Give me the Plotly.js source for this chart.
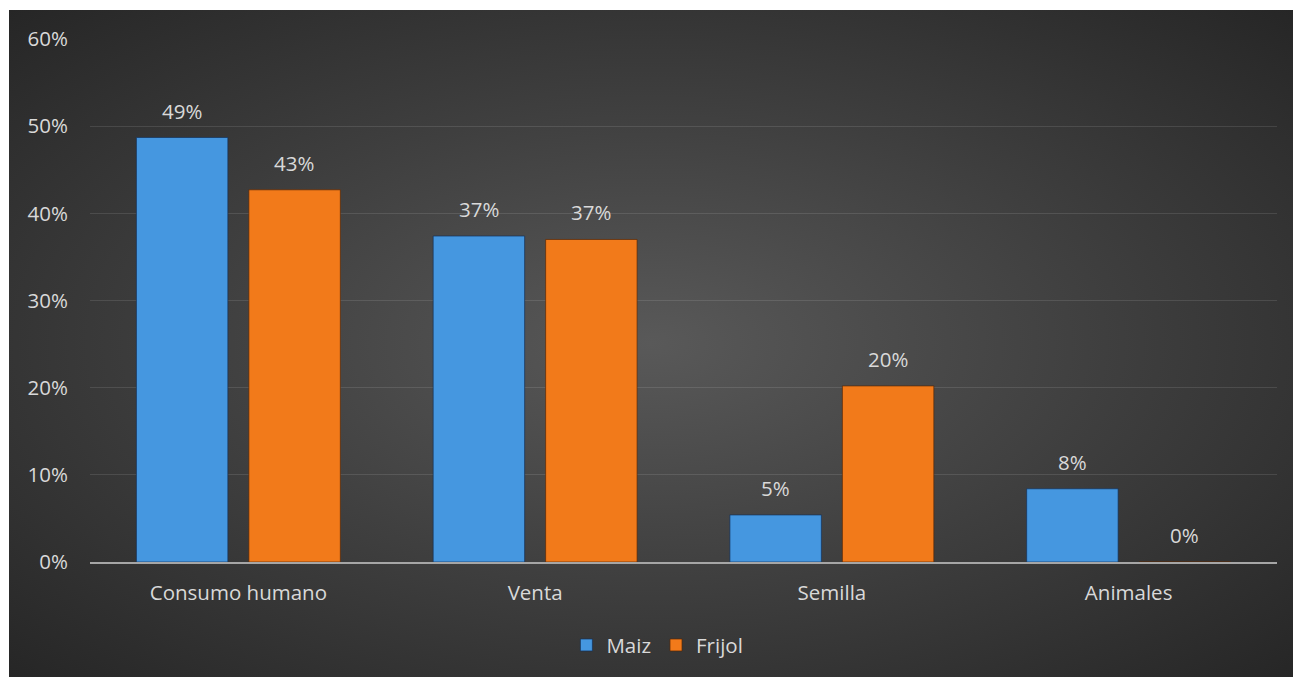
<!DOCTYPE html>
<html>
<head>
<meta charset="utf-8">
<script src="https://cdn.plot.ly/plotly-3.0.1.min.js"></script>
<style>
  html, body { margin: 0; padding: 0; background: #ffffff; }
  #chart {
    position: absolute; left: 9px; top: 10px; width: 1284px; height: 667px;
    background: radial-gradient(ellipse farthest-corner at 50% 50%, #595959 0%, #3f3f3f 50%, #262626 100%);
  }
</style>
</head>
<body>
<div id="chart"></div>
<script>
const categories = ["Consumo humano", "Venta", "Semilla", "Animales"];
const maiz = [0.487, 0.374, 0.054, 0.084];
const frijol = [0.427, 0.370, 0.202, 0.0];
const seriesNames = ["Maiz", "Frijol"];
const yTickVals = [0, 0.1, 0.2, 0.3, 0.4, 0.5, 0.6];

const txtColor = "#d9d9d9";
const fontFam = "'Open Sans', Lato, sans-serif";
const fs = 20.5;

const traces = [
  {
    type: "bar", name: seriesNames[0], x: categories, y: maiz,
    marker: { color: "#4597e0", line: { color: "rgba(20,50,90,0.7)", width: 1 } },
    hoverinfo: "none"
  },
  {
    type: "bar", name: seriesNames[1], x: categories, y: frijol,
    marker: { color: "#f27a1a", line: { color: "rgba(90,40,5,0.7)", width: 1 } },
    hoverinfo: "none"
  }
];

const offset = 0.189;
const annotations = [];
[maiz, frijol].forEach((arr, s) => {
  arr.forEach((v, i) => {
    annotations.push({
      x: i + (s === 0 ? -offset : offset), y: v, xref: "x", yref: "y",
      text: Math.round(v * 100) + "%", showarrow: false,
      yanchor: "middle", yshift: 27,
      font: { family: fontFam, size: fs, color: txtColor }
    });
  });
});

const layout = {
  width: 1284, height: 667,
  paper_bgcolor: "rgba(0,0,0,0)", plot_bgcolor: "rgba(0,0,0,0)",
  margin: { l: 81, r: 16, t: 29, b: 115 },
  barmode: "group", bargap: 0.242, bargroupgap: 0.187,
  font: { family: fontFam, size: fs, color: txtColor },
  xaxis: {
    type: "category", showgrid: false, zeroline: false,
    showline: true, linecolor: "#a6a6a6", linewidth: 2,
    ticks: "", ticklabelstandoff: 11,
    tickfont: { family: fontFam, size: fs, color: txtColor }
  },
  yaxis: {
    range: [0, 0.6], tickvals: yTickVals, tickformat: ".0%",
    showgrid: true, gridcolor: "rgba(255,255,255,0.11)", gridwidth: 1,
    zeroline: false, showline: false, ticks: "", ticklabelstandoff: 21,
    tickfont: { family: fontFam, size: fs, color: txtColor }
  },
  showlegend: true,
  legend: {
    orientation: "h", x: 0.478, xanchor: "center", y: -0.159, yanchor: "middle",
    font: { family: fontFam, size: fs, color: txtColor },
    bgcolor: "rgba(0,0,0,0)", itemwidth: 30, tracegroupgap: 0
  },
  annotations: annotations
};

Plotly.newPlot("chart", traces, layout, { displayModeBar: false, staticPlot: true });
</script>
</body>
</html>
